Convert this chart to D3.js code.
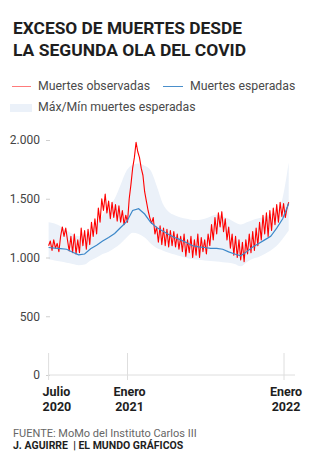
<!DOCTYPE html>
<html>
<head>
<meta charset="utf-8">
<script src="https://cdn.jsdelivr.net/npm/d3@7"></script>
<style>
  body { margin: 0; background: #fff; }
  svg { display: block; font-family: Roboto, "Noto Sans", sans-serif; }
</style>
</head>
<body>
<div id="chart"></div>
<script>
// datos (MoMo)
var inicioObs = new Date(2020, 6, 1);   // una muestra cada 4 dias
var observadas = [
  1100, 1140, 1060, 1150, 1080, 1120, 1050, 1180, 1260, 1180,
  1250, 1150, 1055, 1180, 1040, 1200, 1030, 1150, 1040, 1250,
  1100, 1230, 1070, 1240, 1110, 1300, 1180, 1330, 1200, 1420,
  1300, 1500, 1400, 1540, 1380, 1480, 1330, 1470, 1340, 1450,
  1310, 1440, 1300, 1400, 1280, 1360, 1300, 1500, 1620, 1760,
  1850, 1980, 1900, 1850, 1760, 1700, 1560, 1480, 1400, 1340,
  1290, 1340, 1200, 1260, 1130, 1270, 1110, 1250, 1100, 1240,
  1090, 1230, 1100, 1220, 1090, 1200, 1070, 1180, 1050, 1200,
  1010, 1150, 1040, 1180, 1000, 1150, 1020, 1200, 1000, 1170,
  1050, 1150, 1030, 1200, 1100, 1280, 1150, 1340, 1200, 1380,
  1260, 1390, 1220, 1330, 1150, 1260, 1080, 1200, 1020, 1180,
  1000, 1150, 980, 1130, 965, 1150, 1030, 1200, 1040, 1220,
  1060, 1250, 1100, 1300, 1150, 1360, 1200, 1380, 1180, 1400,
  1230, 1420, 1280, 1450, 1300, 1470, 1350, 1460, 1340, 1420,
  1470
];

var inicioEsp = new Date(2020, 6, 1);   // una muestra cada 14 dias
var esperadas = [
  1085, 1080, 1075, 1070, 1045, 1022, 1030, 1075, 1105, 1140,
  1170, 1205, 1255, 1305, 1400, 1415, 1370, 1300, 1255, 1225,
  1195, 1170, 1150, 1125, 1100, 1090, 1085, 1078, 1078, 1070,
  1048, 1030, 1015, 1050, 1090, 1120, 1150, 1180, 1250, 1330,
  1460
];
var maxEsperadas = [
  1300, 1290, 1265, 1230, 1200, 1180, 1190, 1230, 1290, 1360,
  1430, 1500, 1620, 1740, 1790, 1800, 1780, 1740, 1610, 1460,
  1390, 1360, 1340, 1330, 1320, 1320, 1330, 1350, 1365, 1350,
  1330, 1300, 1280, 1300, 1320, 1335, 1350, 1370, 1390, 1510,
  1810
];
var minEsperadas = [
  985, 975, 965, 955, 945, 935, 940, 975, 1000, 1030,
  1050, 1080, 1120, 1170, 1210, 1200, 1170, 1120, 1080, 1060,
  1040, 1025, 1010, 995, 985, 980, 975, 970, 965, 960,
  955, 945, 925, 960, 990, 1005, 1030, 1060, 1100, 1160,
  1230
];

var yTicks = [0, 500, 1000, 1500, 2000];
var xTicks = [new Date(2020, 6, 1), new Date(2021, 0, 1), new Date(2022, 0, 1)];
var xTickMes = ['Julio', 'Enero', 'Enero'];
var xTickAnio = ['2020', '2021', '2022'];

var es = d3.formatLocale({decimal: ',', thousands: '.', grouping: [3], currency: ['', '€']});
var fmt = es.format(',d');

var size = {width: 312, height: 456};

var svg = d3.select('#chart').append('svg')
  .attr('width', size.width)
  .attr('height', size.height);

// titulo
var title = svg.append('g').attr('fill', '#1e1e1e')
  .style('font-weight', 700).style('font-size', '17px');
title.append('text').attr('x', 13).attr('y', 33.5)
  .attr('textLength', 229).attr('lengthAdjust', 'spacingAndGlyphs')
  .text('EXCESO DE MUERTES DESDE');
title.append('text').attr('x', 13).attr('y', 56)
  .attr('textLength', 233).attr('lengthAdjust', 'spacingAndGlyphs')
  .text('LA SEGUNDA OLA DEL COVID');

// leyenda
var legend = svg.append('g').style('font-size', '12.3px').attr('fill', '#4a4a4a');
legend.append('line').attr('x1', 12).attr('x2', 31).attr('y1', 86.5).attr('y2', 86.5)
  .attr('stroke', '#ff7b7b').attr('stroke-width', 1);
legend.append('text').attr('x', 38).attr('y', 89.5).text('Muertes observadas');
legend.append('line').attr('x1', 163).attr('x2', 183).attr('y1', 86.5).attr('y2', 86.5)
  .attr('stroke', '#4a8fcb').attr('stroke-width', 1);
legend.append('text').attr('x', 190).attr('y', 89.5).text('Muertes esperadas');
legend.append('rect').attr('x', 10).attr('y', 104).attr('width', 22).attr('height', 8)
  .attr('fill', '#ebf1f9');
legend.append('text').attr('x', 38).attr('y', 110.5).text('Máx/Mín muertes esperadas');

// escalas
var x = d3.scaleTime()
  .domain([xTicks[0], xTicks[2]])
  .range([48.6, 284]);
var y = d3.scaleLinear()
  .domain([0, 2000])
  .range([375, 140]);

var obsData = observadas.map(function(v, i){
  return {fecha: d3.timeDay.offset(inicioObs, i * 4), valor: v};
});
var espData = esperadas.map(function(v, i){
  return {fecha: d3.timeDay.offset(inicioEsp, i * 14), valor: v, max: maxEsperadas[i], min: minEsperadas[i]};
});

// banda max/min
svg.append('path')
  .datum(espData)
  .attr('fill', '#ebf1f9')
  .attr('d', d3.area()
    .x(function(d){ return x(d.fecha); })
    .y0(function(d){ return y(d.min); })
    .y1(function(d){ return y(d.max); })
    .curve(d3.curveMonotoneX));

// eje y
var yAxis = svg.append('g')
  .attr('transform', 'translate(50,0)')
  .call(d3.axisLeft(y).tickValues(yTicks).tickSize(4).tickPadding(6).tickFormat(fmt));
yAxis.select('.domain').remove();
yAxis.selectAll('.tick line').attr('stroke', '#cfcfcf');
yAxis.selectAll('.tick text')
  .attr('fill', '#444')
  .style('font-size', '12px')
  .style('font-family', 'Roboto, sans-serif');

// linea base y marcas verticales
svg.append('line')
  .attr('x1', 48).attr('x2', 295)
  .attr('y1', y(0)).attr('y2', y(0))
  .attr('stroke', '#dedede');
svg.selectAll('.vtick')
  .data(xTicks)
  .enter().append('line')
  .attr('class', 'vtick')
  .attr('x1', function(d){ return x(d); })
  .attr('x2', function(d){ return x(d); })
  .attr('y1', 353).attr('y2', 380)
  .attr('stroke', '#dedede');

var xLab = svg.selectAll('.xlab')
  .data(xTicks)
  .enter().append('text')
  .attr('class', 'xlab')
  .attr('fill', '#1e1e1e')
  .style('font-weight', 700)
  .style('font-size', '12.5px')
  .attr('text-anchor', function(d, i){ return i === 0 ? 'start' : 'middle'; })
  .attr('transform', function(d, i){
    return 'translate(' + (i === 0 ? x(d) - 6 : x(d) + 2) + ',396)';
  });
xLab.append('tspan').attr('x', 0).attr('y', 0).text(function(d, i){ return xTickMes[i]; });
xLab.append('tspan').attr('x', 0).attr('y', 15).text(function(d, i){ return xTickAnio[i]; });

// lineas
svg.append('path')
  .datum(obsData)
  .attr('fill', 'none')
  .attr('stroke', '#ff0000')
  .attr('stroke-width', 1.1)
  .attr('stroke-linejoin', 'round')
  .attr('d', d3.line()
    .x(function(d){ return x(d.fecha); })
    .y(function(d){ return y(d.valor); }));

svg.append('path')
  .datum(espData)
  .attr('fill', 'none')
  .attr('stroke', '#3d88c9')
  .attr('stroke-width', 1.2)
  .attr('d', d3.line()
    .x(function(d){ return x(d.fecha); })
    .y(function(d){ return y(d.valor); }));

// fuente
svg.append('text').attr('x', 13).attr('y', 436.5)
  .attr('fill', '#666').style('font-size', '11px')
  .text('FUENTE: MoMo del Instituto Carlos III');
svg.append('text').attr('x', 13).attr('y', 448.5)
  .attr('fill', '#1e1e1e').style('font-size', '10.5px').style('font-weight', 700)
  .attr('xml:space', 'preserve')
  .text('J. AGUIRRE  | EL MUNDO GRÁFICOS');
</script>
</body>
</html>
